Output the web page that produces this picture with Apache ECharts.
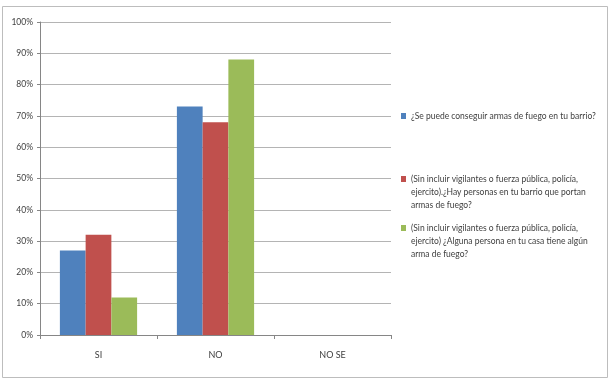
<!DOCTYPE html>
<html>
<head>
<meta charset="utf-8">
<script src="https://cdn.jsdelivr.net/npm/echarts@6/dist/echarts.min.js"></script>
<style>
  html, body { margin: 0; padding: 0; background: #fff; }
  #main { width: 611px; height: 381px; }
</style>
</head>
<body>
<div id="main"></div>
<script>
// datos del grafico
var categorias = ['SI', 'NO', 'NO SE'];
var nombres = ['p1', 'p2', 'p3'];
var textos = [
    '¿Se puede conseguir armas de fuego en tu barrio?',
    '(Sin incluir vigilantes o fuerza pública, policía,\nejercito).¿Hay personas en tu barrio que portan\narmas de fuego?',
    '(Sin incluir vigilantes o fuerza pública, policía,\nejercito) ¿Alguna persona en tu casa tiene algún\narma de fuego?'
];
var valores1 = [27, 73, 0];
var valores2 = [32, 68, 0];
var valores3 = [12, 88, 0];
var ticksY = [0, 10, 20, 30, 40, 50, 60, 70, 80, 90, 100];

(function () {
    var myChart = echarts.init(document.getElementById('main'));
    var fuente = "Lato, 'Liberation Sans', sans-serif";
    var colores = ['#4F81BD', '#C0504D', '#9BBB59'];

    // una leyenda por serie para poder colocarlas como en el original
    // (las lineas vacias delante suben el texto para que el icono quede en la primera linea)
    function leyenda(i, top, vacias) {
        return {
            data: [nombres[i]],
            left: 401,
            top: top,
            padding: 0,
            orient: 'vertical',
            itemWidth: 5,
            itemHeight: 6,
            icon: 'rect',
            formatter: function () { return vacias + textos[i]; },
            textStyle: {
                fontFamily: fuente,
                fontSize: 8.5,
                lineHeight: 13,
                color: '#404040'
            }
        };
    }

    var option = {
        color: colores,
        animation: false,
        textStyle: { fontFamily: fuente },
        grid: {
            left: 40,
            right: 220,
            top: 22,
            bottom: 46
        },
        legend: [
            leyenda(0, 109.5, ''),
            leyenda(1, 146.5, '\n\n'),
            leyenda(2, 195.5, '\n\n')
        ],
        graphic: [{
            type: 'rect',
            shape: { x: 2.5, y: 6.5, width: 605, height: 371 },
            style: { fill: 'none', stroke: '#bdbdbd', lineWidth: 1 },
            silent: true
        }],
        xAxis: {
            type: 'category',
            data: categorias,
            axisLine: { lineStyle: { color: '#868686' } },
            axisTick: { show: true, length: 4, lineStyle: { color: '#868686' } },
            axisLabel: { color: '#404040', fontSize: 9, margin: 16 }
        },
        yAxis: {
            type: 'value',
            min: ticksY[0],
            max: ticksY[ticksY.length - 1],
            interval: 10,
            axisLine: { show: true, lineStyle: { color: '#868686' } },
            axisTick: { show: true, length: 3, lineStyle: { color: '#868686' } },
            axisLabel: { color: '#404040', fontSize: 8.5, margin: 7, formatter: '{value}%' },
            splitLine: { lineStyle: { color: '#b4b4b4' } }
        },
        series: [
            { name: nombres[0], type: 'bar', data: valores1, barGap: '0%', barCategoryGap: '34%' },
            { name: nombres[1], type: 'bar', data: valores2, barGap: '0%', barCategoryGap: '34%' },
            { name: nombres[2], type: 'bar', data: valores3, barGap: '0%', barCategoryGap: '34%' }
        ]
    };
    myChart.setOption(option);
    window.addEventListener('resize', function () {
        myChart.resize();
    });
})();
</script>
</body>
</html>
